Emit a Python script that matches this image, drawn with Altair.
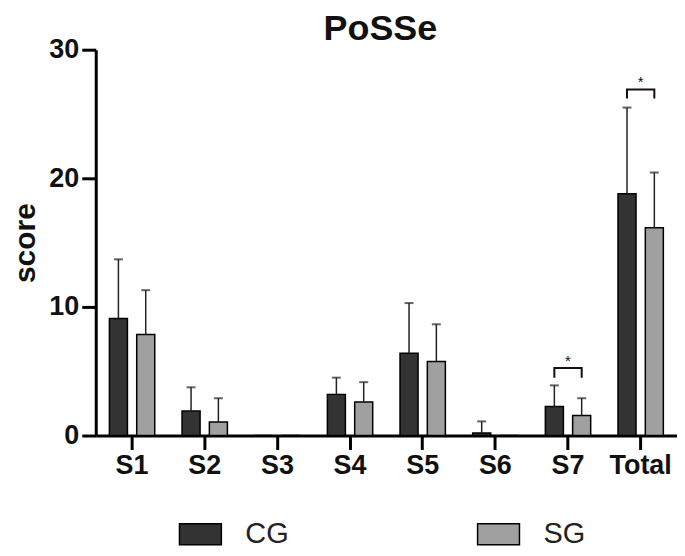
import altair as alt
import pandas as pd

categories = ["S1", "S2", "S3", "S4", "S5", "S6", "S7", "Total"]
groups = ["CG", "SG"]
cg_mean = [9.1, 1.9, 0.0, 3.2, 6.4, 0.2, 2.25, 18.8]
cg_sd = [4.6, 1.85, 0.0, 1.3, 3.9, 0.9, 1.65, 6.7]
sg_mean = [7.85, 1.05, 0.0, 2.6, 5.75, 0.0, 1.55, 16.15]
sg_sd = [3.45, 1.85, 0.0, 1.55, 2.9, 0.0, 1.35, 4.3]

# significance brackets: category, leg bottom, bar top
sig_cats = ["S7", "Total"]
sig_leg = [4.5, 26.2]
sig_top = [5.25, 26.9]
sig_star = [5.8, 27.45]

rows = []
for c, m, s in zip(categories, cg_mean, cg_sd):
    rows.append({"cat": c, "group": "CG", "mean": m, "sd": s, "top": m + s})
for c, m, s in zip(categories, sg_mean, sg_sd):
    rows.append({"cat": c, "group": "SG", "mean": m, "sd": s, "top": m + s})
df = pd.DataFrame(rows)

brows = []
for c, lo, hi in zip(sig_cats, sig_leg, sig_top):
    brows += [
        {"cat": c, "group": "CG", "y": lo, "o": 0},
        {"cat": c, "group": "CG", "y": hi, "o": 1},
        {"cat": c, "group": "SG", "y": hi, "o": 2},
        {"cat": c, "group": "SG", "y": lo, "o": 3},
    ]
bdf = pd.DataFrame(brows)
sdf = pd.DataFrame({"cat": sig_cats, "y": sig_star, "t": ["*"] * len(sig_cats)})

FONT = "Liberation Sans"

x_enc = alt.X("cat:N", sort=categories,
              scale=alt.Scale(paddingInner=0, paddingOuter=0),
              axis=alt.Axis(title=None, labelAngle=0, labelFontSize=27, labelFontWeight="bold",
                            labelFont=FONT, labelColor="#111", labelPadding=3,
                            domainWidth=3, domainColor="#000", tickWidth=3, tickColor="#000",
                            tickSize=14))
xo_enc = alt.XOffset("group:N", sort=groups,
                     scale=alt.Scale(paddingInner=0.34, paddingOuter=0.5))
y_scale = alt.Scale(domain=[0, 30], nice=False)
y_axis = alt.Axis(title="score", values=[0, 10, 20, 30], titleFontSize=30, titleFont=FONT,
                  titleFontWeight="bold", titleColor="#111", titlePadding=8,
                  labelFontSize=27, labelFontWeight="bold", labelFont=FONT, labelColor="#111",
                  labelPadding=3, domainWidth=3, domainColor="#000", tickWidth=3,
                  tickColor="#000", tickSize=14, grid=False)

color = alt.Color("group:N", sort=groups,
                  scale=alt.Scale(domain=groups, range=["#333333", "#a0a0a0"]),
                  legend=alt.Legend(title=None, orient="none", direction="horizontal",
                                    columns=2, legendX=83, legendY=464,
                                    symbolType="M-1,-0.5H1V0.5H-1Z", symbolSize=1764,
                                    symbolStrokeColor="#000", symbolStrokeWidth=1.5,
                                    symbolOpacity=1,
                                    labelFontSize=29, labelFont=FONT, labelColor="#222",
                                    labelOffset=23, columnPadding=186, labelLimit=200))

base = alt.Chart(df)

bars = base.mark_bar(stroke="#000", strokeWidth=1.5).encode(
    x=x_enc, xOffset=xo_enc,
    y=alt.Y("mean:Q", scale=y_scale, axis=y_axis),
    color=color,
)

err = base.transform_filter("datum.sd > 0").mark_rule(color="#222", strokeWidth=1.5).encode(
    x=alt.X("cat:N", sort=categories), xOffset=xo_enc,
    y="mean:Q", y2="top:Q",
)

caps = base.transform_filter("datum.sd > 0").mark_tick(color="#222", thickness=2, size=9,
                                                       orient="horizontal").encode(
    x=alt.X("cat:N", sort=categories), xOffset=xo_enc,
    y="top:Q",
)

brackets = alt.Chart(bdf).mark_line(color="#111", strokeWidth=2).encode(
    x=alt.X("cat:N", sort=categories), xOffset=alt.XOffset("group:N", sort=groups),
    y="y:Q", detail="cat:N", order="o:Q",
)

stars = alt.Chart(sdf).mark_text(fontSize=15, font=FONT, color="#111", baseline="middle").encode(
    x=alt.X("cat:N", sort=categories), y="y:Q", text="t:N",
)

chart = alt.layer(bars, err, caps, brackets, stars).properties(
    width=583, height=387,
    title=alt.TitleParams("PoSSe", fontSize=36, font=FONT, fontWeight="bold", color="#111",
                          offset=-12, dx=-6),
    padding={"left": 2, "top": 2, "right": 0, "bottom": 0},
).configure_view(stroke=None)

chart.save("out.html", embed_options={"renderer": "svg", "actions": False})
